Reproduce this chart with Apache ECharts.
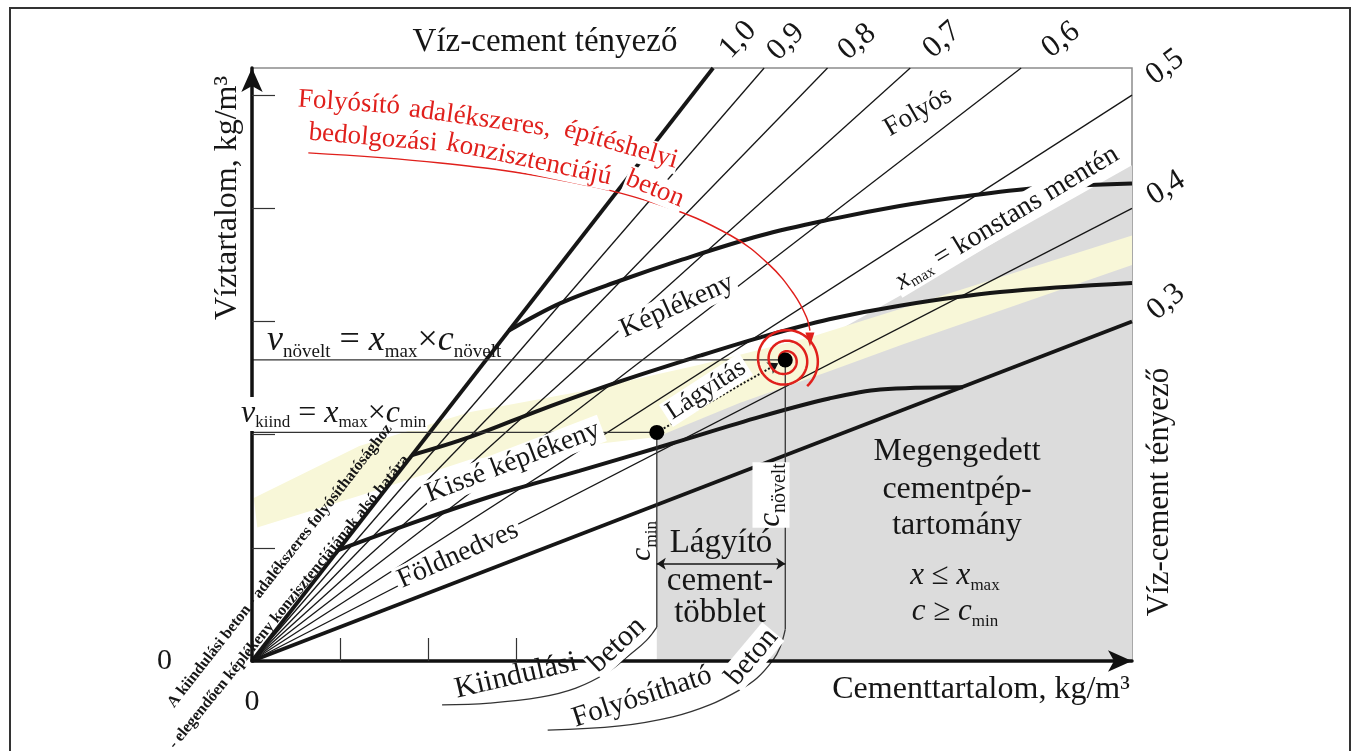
<!DOCTYPE html>
<html>
<head>
<meta charset="UTF-8">
<script src="https://cdn.jsdelivr.net/npm/echarts@6.0.0/dist/echarts.min.js"></script>
<style>
html, body { margin: 0; padding: 0; background: #fff; }
#chart { width: 1358px; height: 751px; }
</style>
</head>
<body>
<div id="chart"></div>
<script>
var F = '"Liberation Serif", "Times New Roman", serif';
var INK = '#161616';
var RED = '#e0201c';

// víz-cement tényező vonalak (cement, víz végpont)
var wcLabels = ['1,0', '0,9', '0,8', '0,7', '0,6', '0,5', '0,4', '0,3'];
var wcEndC = [262, 291, 327, 374, 437, 500, 500, 500];
var wcEndW = [262, 262, 262, 262, 262, 250, 200, 150];

// konzisztencia határok
var folyosC = [146, 175, 209, 243, 289, 328, 368, 402, 446, 500];
var folyosW = [146, 158, 168, 177, 188, 195, 201, 205, 209, 211];
var keplC = [91, 124, 164, 207, 255, 289, 328, 368, 425, 500];
var keplW = [91, 99, 111, 123, 135, 143, 151, 157, 163, 167];
var kisseC = [49, 95, 141, 186, 238, 289, 328, 357, 404];
var kisseW = [49, 62, 74, 84, 96, 108, 116, 120, 121];

// folyósítható sáv (sárga)
var bandTopC = [1, 61, 124, 186, 255, 317, 370, 500];
var bandTopW = [72, 95, 110, 119, 131, 143, 156, 188];
var bandBotC = [3, 61, 124, 186, 230, 277, 328, 370, 500];
var bandBotW = [59, 73, 89, 95, 99, 114, 128, 140, 175];

// megengedett cementpép-tartomány felső széle (x_max)
var xmaxC = [230, 500];
var xmaxW = [101, 219];

// kiindulási és növelt pont
var cMin = 230, vKiind = 101;
var cNovelt = 303, vNovelt = 133;
var extraW = 43;

// mutató görbék
var leadKiindC = [230, 224, 215, 202, 184, 164, 135, 108];
var leadKiindW = [15, 9, 3, -5, -12, -16, -18.6, -19.4];
var leadFolyC = [303, 300, 296, 287, 277, 260, 239, 209, 168];
var leadFolyW = [14, 6, 0.4, -7.5, -12.8, -19.4, -24.7, -28.7, -30.5];
var arcC = [32, 107, 175, 232, 272, 294, 308, 315, 317];
var arcW = [224.5, 220, 212.5, 201.5, 188, 175, 162, 152, 146];

var xTicks = [50, 100, 150];
var yTicks = [50, 100, 150, 200, 250];

function pts(cs, ws) {
	return cs.map(function (c, i) { return [c, ws[i]]; });
}

var chart = echarts.init(document.getElementById('chart'));

var series = [];
// szürke tartomány
series.push({
	type: 'line', data: pts(xmaxC, xmaxW), symbol: 'none', silent: true, z: 1,
	lineStyle: { width: 0 }, areaStyle: { color: '#dcdcdc', opacity: 1 }
});
// sárga sáv
series.push({
	type: 'custom', silent: true, z: 2, data: [[0, 0]],
	renderItem: function (params, api) {
		var p = [];
		for (var i = 0; i < bandTopC.length; i++) p.push(api.coord([bandTopC[i], bandTopW[i]]));
		for (var j = bandBotC.length - 1; j >= 0; j--) p.push(api.coord([bandBotC[j], bandBotW[j]]));
		return { type: 'polygon', shape: { points: p }, style: { fill: '#f8f7d8' } };
	}
});
// v/c vonalak
wcLabels.forEach(function (l, i) {
	var thick = (i === 0 || i === wcLabels.length - 1);
	series.push({
		type: 'line', data: [[0, 0], [wcEndC[i], wcEndW[i]]], symbol: 'none', silent: true, z: 3,
		lineStyle: { color: INK, width: thick ? 3.8 : 1.3 }
	});
});
// konzisztencia görbék
[[folyosC, folyosW], [keplC, keplW], [kisseC, kisseW]].forEach(function (c) {
	series.push({
		type: 'line', data: pts(c[0], c[1]), smooth: 0.35, symbol: 'none', silent: true, z: 4,
		lineStyle: { color: INK, width: 4 }
	});
});
// segédvonalak
var thin = { color: '#333', width: 1.3 };
[
	[[-13, vKiind], [cMin, vKiind]],
	[[-11, vNovelt], [cNovelt, vNovelt]],
	[[cMin, vKiind], [cMin, leadKiindW[0]]],
	[[cNovelt, vNovelt], [cNovelt, leadFolyW[0]]]
].forEach(function (d) {
	series.push({ type: 'line', data: d, symbol: 'none', silent: true, clip: false, z: 4, lineStyle: thin });
});
series.push({ type: 'line', data: pts(leadKiindC, leadKiindW), smooth: 0.4, symbol: 'none', silent: true, clip: false, z: 4, lineStyle: thin });
series.push({ type: 'line', data: pts(leadFolyC, leadFolyW), smooth: 0.4, symbol: 'none', silent: true, clip: false, z: 4, lineStyle: thin });
// piros ív
series.push({ type: 'line', data: pts(arcC, arcW), smooth: 0.4, symbol: 'none', silent: true, z: 6, lineStyle: { color: RED, width: 1.5 } });
series.push({ type: 'scatter', data: [[317, 142]], symbol: 'triangle', symbolRotate: 180, symbolSize: [9, 14], silent: true, z: 6, itemStyle: { color: RED, opacity: 1 } });
// lágyítás nyíl és cementtöbblet nyíl
series.push({
	type: 'lines', coordinateSystem: 'cartesian2d', silent: true, z: 6,
	symbol: ['none', 'arrow'], symbolSize: 10,
	lineStyle: { color: INK, width: 2, type: 'dotted', opacity: 1 },
	data: [{ coords: [[cMin, vKiind], [299, 131.5]] }]
});
series.push({
	type: 'lines', coordinateSystem: 'cartesian2d', silent: true, z: 6,
	symbol: ['arrow', 'arrow'], symbolSize: 9,
	lineStyle: { color: INK, width: 1.5, opacity: 1 },
	data: [{ coords: [[cMin, extraW], [cNovelt, extraW]] }]
});
// pontok
series.push({ type: 'scatter', data: [[cMin, vKiind], [cNovelt, vNovelt]], symbolSize: 15, silent: true, z: 100, itemStyle: { color: '#000', opacity: 1 } });

function label(t, x, y, size, rot, extra) {
	var st = { text: t, fontSize: size, fontFamily: F, fill: INK, align: 'center', verticalAlign: 'middle' };
	if (extra) for (var k in extra) st[k] = extra[k];
	return { type: 'text', x: x, y: y, rotation: (rot || 0) * Math.PI / 180, z: 50, silent: true, style: st };
}
function rich(size, sub, fill, lh) {
	fill = fill || INK;
	lh = lh || size + 6;
	return {
		i: { fontStyle: 'italic', fontSize: size, fontFamily: F, fill: fill, lineHeight: lh },
		n: { fontSize: size, fontFamily: F, fill: fill, lineHeight: lh },
		s: { fontSize: sub, fontFamily: F, fill: fill, lineHeight: sub, verticalAlign: 'bottom' }
	};
}
function white(o) {
	o = o || {};
	o.backgroundColor = '#fff';
	if (!o.padding) o.padding = [0, 3];
	return o;
}

var wcLabelXY = [[738, 40], [786, 42], [857, 42], [942, 40], [1061, 40], [1165, 67], [1166, 188], [1166, 302]];
var wcLabelRot = [46, 45, 40, 42, 38, 37, 32, 40];

var els = [];
els.push({ type: 'rect', z: 0, silent: true, shape: { x: 10, y: 8, width: 1340, height: 780 }, style: { fill: 'none', stroke: '#333', lineWidth: 2 } });
els.push(label('Víz-cement tényező', 545, 42, 33, 0));
els.push(label('Víz-cement tényező', 1160, 492, 31, 90));
els.push(label('Víztartalom, kg/m³', 228, 198, 32, 90));
els.push(label('Cementtartalom, kg/m³', 981, 690, 32, 0));
wcLabels.forEach(function (l, i) {
	els.push(label(l, wcLabelXY[i][0], wcLabelXY[i][1], 31, wcLabelRot[i]));
});
els.push(label('Folyós', 918, 112, 27, 30));
els.push(label('Képlékeny', 677, 306, 28, 24, white()));
els.push(label('Kissé képlékeny', 513, 462, 28, 21, white()));
els.push(label('Földnedves', 458, 555, 28, 24, white()));
els.push(label('Lágyítás', 706, 390, 26, 33, white()));
els.push(label('{i|x}{s|max}{n| = konstans mentén}', 1007, 218, 28, 31, white({ rich: rich(28, 15, INK, 29) })));
els.push(label('{i|v}{s|növelt}{n| = }{i|x}{s|max}{n|×}{i|c}{s|növelt}', 267, 341, 36, 0, { align: 'left', rich: rich(36, 19) }));
els.push(label('{i|v}{s|kiind}{n| = }{i|x}{s|max}{n|×}{i|c}{s|min}', 240, 414, 32, 0, white({ align: 'left', padding: [0, 1], rich: rich(32, 17, INK, 34) })));

// piros felirat
[['Folyósító', 349, 103, -4], ['adalékszeres,', 480, 119, -8], ['építéshelyi', 621, 145, -16],
 ['bedolgozási', 373, 138, -5], ['konzisztenciájú', 529, 160, -12], ['beton', 655, 189, -22]].forEach(function (w) {
	els.push(label(w[0], w[1], w[2], 27, w[3], white({ fill: RED, padding: [0, 1] })));
});

els.push(label('A kiindulási beton - adalékszeres folyósíthatósághoz', 280, 566, 16, 52, { fontWeight: 'bold' }));
els.push(label('- elegendően képlékeny konzisztenciájának alsó határa', 289, 602, 16, 51, { fontWeight: 'bold' }));

els.push(label('Lágyító', 721, 543, 33, 0));
els.push(label('cement-', 720, 581, 33, 0));
els.push(label('többlet', 720, 613, 33, 0));
els.push(label('{i|c}{s|min}', 642, 541, 30, 90, { rich: rich(30, 17) }));
els.push(label('{i|c}{s|növelt}', 771, 495, 31, 90, white({ rich: rich(31, 20), padding: [0, 1] })));

els.push(label('Megengedett', 957, 452, 32, 0));
els.push(label('cementpép-', 957, 490, 32, 0));
els.push(label('tartomány', 957, 526, 32, 0));
els.push(label('{i|x}{n| ≤ }{i|x}{s|max}', 955, 576, 31, 0, { rich: rich(31, 17) }));
els.push(label('{i|c}{n| ≥ }{i|c}{s|min}', 955, 612, 31, 0, { rich: rich(31, 17) }));

els.push(label('Kiindulási', 516, 676, 30, 13));
els.push(label('beton', 617, 645, 30, 43, white({ padding: [0, 1] })));
els.push(label('Folyósítható', 642, 697, 29, 18));
els.push(label('beton', 752, 657, 29, 50, white({ padding: [0, 1] })));

var option = {
	animation: false,
	grid: { left: 252, top: 68, width: 880, height: 593, show: true, borderColor: '#8c8c8c', borderWidth: 1.5 },
	xAxis: {
		type: 'value', min: 0, max: 500, z: 10,
		splitLine: { show: false },
		axisLine: { show: true, onZero: false, symbol: ['none', 'arrow'], symbolSize: [16, 24], symbolOffset: [0, 0], lineStyle: { color: '#111', width: 3.5 } },
		axisTick: { show: true, inside: true, length: 23, customValues: xTicks, lineStyle: { color: '#333', width: 1.2 } },
		axisLabel: { customValues: [0], margin: 26, fontSize: 30, fontFamily: F, color: INK }
	},
	yAxis: {
		type: 'value', min: 0, max: 262, z: 10,
		splitLine: { show: false },
		axisLine: { show: true, onZero: false, symbol: ['none', 'arrow'], symbolSize: [16, 24], symbolOffset: [0, 0], lineStyle: { color: '#111', width: 3.5 } },
		axisTick: { show: true, inside: true, length: 23, customValues: yTicks, lineStyle: { color: '#333', width: 1.2 } },
		axisLabel: { customValues: [0], margin: 80, fontSize: 30, fontFamily: F, color: INK }
	},
	series: series,
	graphic: { elements: els }
};
chart.setOption(option);

// piros spirál a növelt pont körül
var cp = chart.convertToPixel({ gridIndex: 0 }, [cNovelt, vNovelt]);
function spiralPoints(cx, cy) {
	var turns = 3.2, rEnd = 34, endAng = 50 * Math.PI / 180;
	var total = turns * 2 * Math.PI, n = 220, p = [];
	for (var k = 0; k <= n; k++) {
		var t = k / n, ang = endAng - total * (1 - t), r = rEnd * t;
		p.push([cx + r * Math.cos(ang), cy + r * Math.sin(ang)]);
	}
	return p;
}
els.push({ type: 'polyline', z: 45, silent: true, shape: { points: spiralPoints(cp[0], cp[1]) }, style: { fill: null, stroke: RED, lineWidth: 2.5 } });
chart.setOption({ graphic: { elements: els } }, { replaceMerge: ['graphic'] });
</script>
</body>
</html>
